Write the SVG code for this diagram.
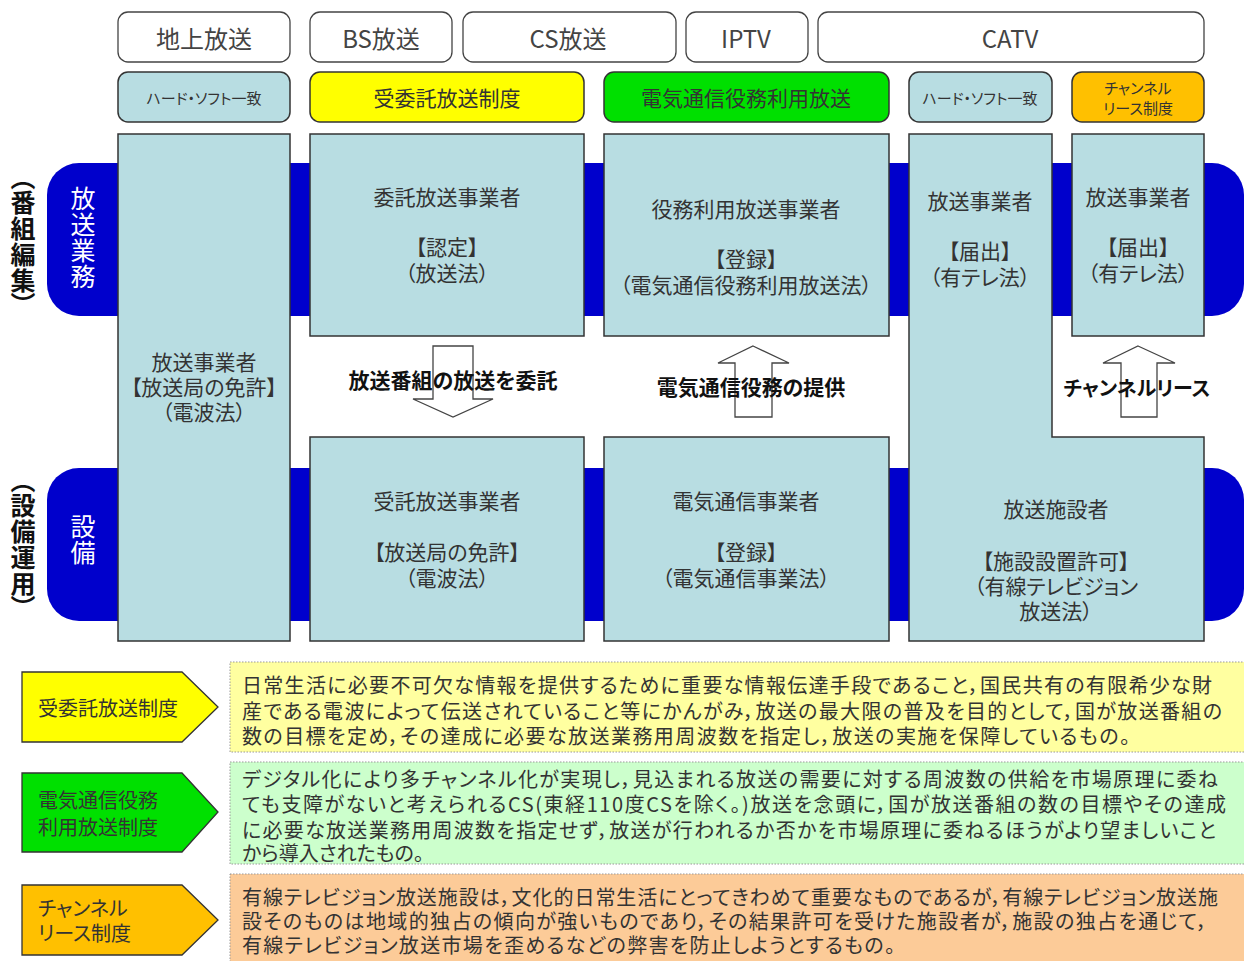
<svg xmlns="http://www.w3.org/2000/svg" width="1244" height="961" viewBox="0 0 1244 961">
<style>
text{font-family:"Noto Sans CJK JP","Noto Sans",sans-serif;fill:#333;font-feature-settings:"palt";}
.hdr{fill:#fff;stroke:#444;stroke-width:1.3;}
.lb{fill:#b8dde2;stroke:#333;stroke-width:1.5;}
.band{fill:#0000cc;}
.t24{font-size:24px;text-anchor:middle;dominant-baseline:central;fill:#444;}
.t21{font-size:21px;text-anchor:middle;dominant-baseline:central;}
.t15{font-size:15px;text-anchor:middle;dominant-baseline:central;}
.vb{font-size:25px;font-weight:700;fill:#111;writing-mode:vertical-rl;font-feature-settings:"vpal";letter-spacing:1px;}
.vw{font-size:25px;fill:#fff;writing-mode:vertical-rl;letter-spacing:1px;}
.arr{fill:#fff;stroke:#444;stroke-width:1.3;}
.al{font-size:21px;font-weight:700;fill:#111;text-anchor:middle;dominant-baseline:central;}
.pent{stroke:#333;stroke-width:1.3;}
.pl{font-size:20px;dominant-baseline:central;}
.desc{stroke:#999;stroke-width:1;stroke-dasharray:1.5 1.5;}
.dt{font-size:20px;dominant-baseline:central;}
</style>

<!-- blue bands -->
<g id="bands">
<rect class="band" x="47" y="163" width="1197" height="153" rx="32"/>
<rect class="band" x="47" y="468" width="1197" height="153" rx="32"/>
</g>

<!-- side labels -->
<g id="label-bangumi"><text class="vb" x="23" y="176">（番組編集）</text></g>
<g id="label-housou-gyoumu"><text class="vw" x="83" y="186">放送業務</text></g>
<g id="label-setsubi-unyou"><text class="vb" x="23" y="479">（設備運用）</text></g>
<g id="label-setsubi"><text class="vw" x="83" y="514">設備</text></g>

<!-- header row -->
<g id="h-chijou"><rect class="hdr" x="118" y="12" width="172" height="50" rx="10"/><text class="t24" x="204" y="37">地上放送</text></g>
<g id="h-bs"><rect class="hdr" x="310" y="12" width="142" height="50" rx="10"/><text class="t24" x="381" y="37">BS放送</text></g>
<g id="h-cs"><rect class="hdr" x="463" y="12" width="213" height="50" rx="10"/><text class="t24" x="568" y="37">CS放送</text></g>
<g id="h-iptv"><rect class="hdr" x="686" y="12" width="122" height="50" rx="10"/><text class="t24" x="746" y="37">IPTV</text></g>
<g id="h-catv"><rect class="hdr" x="818" y="12" width="386" height="50" rx="10"/><text class="t24" x="1010" y="37">CATV</text></g>

<!-- system row -->
<g id="s-hard1"><rect class="lb" x="118" y="72" width="172" height="50" rx="10"/><text class="t15" x="204" y="97">ハード・ソフト一致</text></g>
<g id="s-jiitaku"><rect x="310" y="72" width="274" height="50" rx="10" fill="#ffff00" stroke="#333" stroke-width="1.5"/><text class="t21" x="447" y="97">受委託放送制度</text></g>
<g id="s-denki"><rect x="604" y="72" width="285" height="50" rx="10" fill="#00e000" stroke="#333" stroke-width="1.5"/><text class="t21" x="746" y="97">電気通信役務利用放送</text></g>
<g id="s-hard2"><rect class="lb" x="909" y="72" width="143" height="50" rx="10"/><text class="t15" x="980" y="97">ハード・ソフト一致</text></g>
<g id="s-channel"><rect x="1072" y="72" width="132" height="50" rx="10" fill="#ffc000" stroke="#333" stroke-width="1.5"/><text class="t15" x="1138" y="87">チャンネル</text><text class="t15" x="1138" y="107">リース制度</text></g>

<!-- main boxes -->
<g id="n-chijou"><rect class="lb" x="118" y="134" width="172" height="507"/>
<text class="t21" x="204" y="361">放送事業者</text><text class="t21" x="204" y="386">【放送局の免許】</text><text class="t21" x="204" y="411">（電波法）</text></g>

<g id="n-itaku"><rect class="lb" x="310" y="134" width="274" height="202"/>
<text class="t21" x="447" y="196">委託放送事業者</text><text class="t21" x="447" y="246">【認定】</text><text class="t21" x="447" y="272">（放送法）</text></g>

<g id="n-ekimu"><rect class="lb" x="604" y="134" width="285" height="202"/>
<text class="t21" x="746" y="208">役務利用放送事業者</text><text class="t21" x="746" y="258">【登録】</text><text class="t21" x="746" y="284">（電気通信役務利用放送法）</text></g>

<g id="n-catv"><path class="lb" d="M909,134 H1052 V437 H1204 V641 H909 Z"/>
<text class="t21" x="980" y="200">放送事業者</text><text class="t21" x="980" y="250">【届出】</text><text class="t21" x="980" y="276">（有テレ法）</text>
<text class="t21" x="1056" y="508">放送施設者</text><text class="t21" x="1056" y="560">【施設設置許可】</text><text class="t21" x="1056" y="585">（有線テレビジョン</text><text class="t21" x="1056" y="610">放送法）</text></g>

<g id="n-lease"><rect class="lb" x="1072" y="134" width="132" height="202"/>
<text class="t21" x="1138" y="196">放送事業者</text><text class="t21" x="1138" y="246">【届出】</text><text class="t21" x="1138" y="272">（有テレ法）</text></g>

<g id="n-jutaku"><rect class="lb" x="310" y="437" width="274" height="204"/>
<text class="t21" x="447" y="500">受託放送事業者</text><text class="t21" x="447" y="551">【放送局の免許】</text><text class="t21" x="447" y="577">（電波法）</text></g>

<g id="n-denki"><rect class="lb" x="604" y="437" width="285" height="204"/>
<text class="t21" x="746" y="500">電気通信事業者</text><text class="t21" x="746" y="551">【登録】</text><text class="t21" x="746" y="577">（電気通信事業法）</text></g>

<!-- connectors -->
<g id="connectors">
<path class="arr" d="M433,346 H473 V399 H493 L453,417 L413,399 H433 Z"/>
<path class="arr" d="M753,346 L789,363 H772 V417 H735 V363 H718 Z"/>
<path class="arr" d="M1138,346 L1175,363 H1157 V417 H1121 V363 H1103 Z"/>
<text class="al" x="453" y="379">放送番組の放送を委託</text>
<text class="al" x="751" y="386">電気通信役務の提供</text>
<text class="al" x="1137" y="387" style="font-size:20px">チャンネルリース</text>
</g>

<!-- legend -->
<g id="legend-jiitaku">
<path class="pent" fill="#ffff00" d="M22,672 H182 L218,707 L182,742 H22 Z"/>
<text class="pl" x="38" y="707">受委託放送制度</text>
<rect class="desc" fill="#ffffa0" x="230" y="662" width="1020" height="90"/>
<text class="dt" x="242" y="684" textLength="970" lengthAdjust="spacing">日常生活に必要不可欠な情報を提供するために重要な情報伝達手段であること，国民共有の有限希少な財</text>
<text class="dt" x="242" y="710" textLength="980" lengthAdjust="spacing">産である電波によって伝送されていること等にかんがみ，放送の最大限の普及を目的として，国が放送番組の</text>
<text class="dt" x="242" y="735" textLength="888" lengthAdjust="spacing">数の目標を定め，その達成に必要な放送業務用周波数を指定し，放送の実施を保障しているもの。</text>
</g>

<g id="legend-denki">
<path class="pent" fill="#00e000" d="M22,773 H182 L218,812 L182,852 H22 Z"/>
<text class="pl" x="38" y="799">電気通信役務</text>
<text class="pl" x="38" y="826">利用放送制度</text>
<rect class="desc" fill="#ccffcc" x="230" y="762" width="1020" height="102"/>
<text class="dt" x="242" y="778" textLength="976" lengthAdjust="spacing">デジタル化により多チャンネル化が実現し，見込まれる放送の需要に対する周波数の供給を市場原理に委ね</text>
<text class="dt" x="242" y="803" textLength="984" lengthAdjust="spacing">ても支障がないと考えられるCS(東経110度CSを除く。)放送を念頭に，国が放送番組の数の目標やその達成</text>
<text class="dt" x="242" y="829" textLength="974" lengthAdjust="spacing">に必要な放送業務用周波数を指定せず，放送が行われるか否かを市場原理に委ねるほうがより望ましいこと</text>
<text class="dt" x="242" y="852">から導入されたもの。</text>
</g>

<g id="legend-channel">
<path class="pent" fill="#ffc000" d="M22,885 H182 L218,920 L182,955 H22 Z"/>
<text class="pl" x="38" y="907">チャンネル</text>
<text class="pl" x="38" y="932">リース制度</text>
<rect class="desc" fill="#fccb98" x="230" y="874" width="1020" height="92"/>
<text class="dt" x="242" y="896" textLength="976" lengthAdjust="spacing">有線テレビジョン放送施設は，文化的日常生活にとってきわめて重要なものであるが，有線テレビジョン放送施</text>
<text class="dt" x="242" y="920" textLength="965" lengthAdjust="spacing">設そのものは地域的独占の傾向が強いものであり，その結果許可を受けた施設者が，施設の独占を通じて，</text>
<text class="dt" x="242" y="944" textLength="653" lengthAdjust="spacing">有線テレビジョン放送市場を歪めるなどの弊害を防止しようとするもの。</text>
</g>
</svg>
